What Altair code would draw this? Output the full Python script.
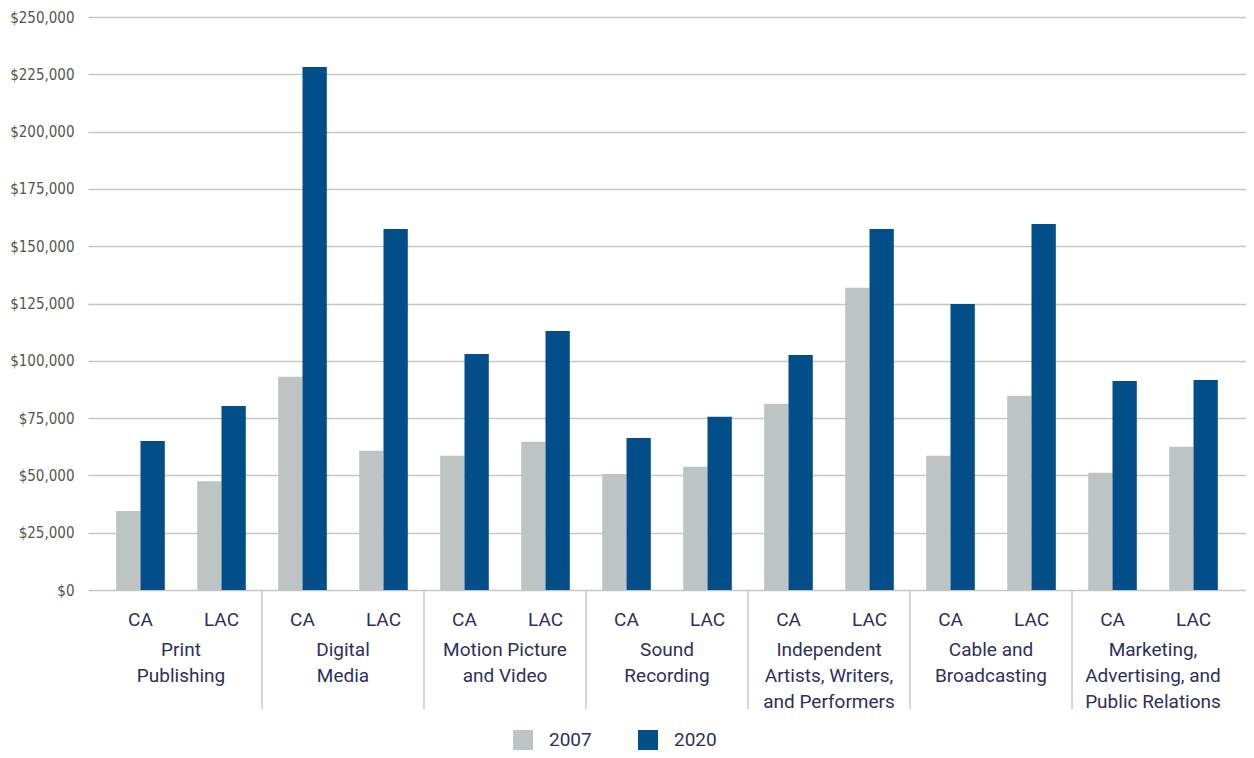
import altair as alt
import pandas as pd

sectors = [
    "Print Publishing",
    "Digital Media",
    "Motion Picture and Video",
    "Sound Recording",
    "Independent Artists, Writers, and Performers",
    "Cable and Broadcasting",
    "Marketing, Advertising, and Public Relations",
]
sector_lines = [
    "Print\nPublishing",
    "Digital\nMedia",
    "Motion Picture\nand Video",
    "Sound\nRecording",
    "Independent\nArtists, Writers,\nand Performers",
    "Cable and\nBroadcasting",
    "Marketing,\nAdvertising, and\nPublic Relations",
]
regions = ["CA", "LAC"]
years = ["2007", "2020"]
# order: sector by sector, CA then LAC
earnings_2007 = [34500, 47500, 93000, 60800, 58600, 64700, 50600, 53800,
                 81300, 131900, 58600, 84800, 51200, 62500]
earnings_2020 = [65000, 80300, 228200, 157500, 103000, 113000, 66300, 75600,
                 102500, 157500, 124800, 159700, 91200, 91600]
y_ticks = [0, 25000, 50000, 75000, 100000, 125000, 150000, 175000, 200000, 225000, 250000]

rows = []
keys = []
for i, s in enumerate(sectors):
    for j, r in enumerate(regions):
        k = f"{s}|{r}"
        keys.append(k)
        idx = 2 * i + j
        rows.append({"key": k, "year": "2007", "value": earnings_2007[idx]})
        rows.append({"key": k, "year": "2020", "value": earnings_2020[idx]})
df = pd.DataFrame(rows)

sep_df = pd.DataFrame({"pos": list(range(1, len(sectors)))})
lab_df = pd.DataFrame({"pos": [i + 0.5 for i in range(len(sectors))], "label": sector_lines})

W, H = 1158, 573
P_IN, P_OUT = 0.4, 0.348
edge = (P_OUT - P_IN / 2) / 2

TEXT = "#2e2f5c"
FONT = "Roboto"
YFONT = "'Liberation Sans Narrow', 'DejaVu Sans Condensed', 'Liberation Sans', sans-serif"

bars = alt.Chart(df).mark_bar().encode(
    x=alt.X(
        "key:N",
        sort=keys,
        scale=alt.Scale(paddingInner=P_IN, paddingOuter=P_OUT),
        axis=alt.Axis(
            title=None,
            labelExpr="split(datum.value, '|')[1]",
            labelAngle=0,
            ticks=False,
            domain=False,
            grid=False,
            labelFont=FONT,
            labelFontSize=19,
            labelColor=TEXT,
            labelBaseline="alphabetic",
            labelPadding=35,
        ),
    ),
    xOffset=alt.XOffset("year:N", sort=years, scale=alt.Scale(paddingInner=0, paddingOuter=0)),
    y=alt.Y(
        "value:Q",
        scale=alt.Scale(domain=[0, 250000], nice=False),
        axis=alt.Axis(
            title=None,
            values=y_ticks,
            format="$,.0f",
            ticks=False,
            domain=False,
            grid=True,
            gridColor="#c6c6c6",
            gridWidth=1.5,
            labelFont=YFONT,
            labelFontSize=15,
            labelColor="#55574a",
            labelPadding=14,
        ),
    ),
    color=alt.Color(
        "year:N",
        sort=years,
        scale=alt.Scale(domain=years, range=["#bec3c3", "#024e89"]),
        legend=alt.Legend(
            title=None,
            orient="none",
            legendX=425,
            legendY=713,
            direction="horizontal",
            symbolType="square",
            symbolSize=400,
            symbolStrokeWidth=0,
            symbolOpacity=1,
            labelFont=FONT,
            labelFontSize=19,
            labelColor=TEXT,
            labelOffset=16,
            columnPadding=46,
        ),
    ),
)

xlin = alt.Scale(domain=[-edge, len(sectors) + edge], nice=False, zero=False)

rules = alt.Chart(sep_df).mark_rule(color="#c8c8c8", strokeWidth=1.5).encode(
    x=alt.X("pos:Q", scale=xlin, axis=None),
    y=alt.value(H),
    y2=alt.value(H + 119),
)

labels = alt.Chart(lab_df).mark_text(
    font=FONT,
    fontSize=19,
    color=TEXT,
    align="center",
    baseline="alphabetic",
    lineBreak="\n",
    lineHeight=26,
).encode(
    x=alt.X("pos:Q", scale=xlin, axis=None),
    y=alt.value(H + 66),
    text="label:N",
)

chart = (
    alt.layer(bars, rules, labels)
    .resolve_scale(x="independent")
    .properties(
        width=W,
        height=H,
        autosize=alt.AutoSizeParams(type="none"),
        padding={"left": 80, "top": 9, "right": 0, "bottom": 161},
    )
    .configure_view(stroke=None)
)

chart.save("out.html", embed_options={"renderer": "svg", "actions": False})
